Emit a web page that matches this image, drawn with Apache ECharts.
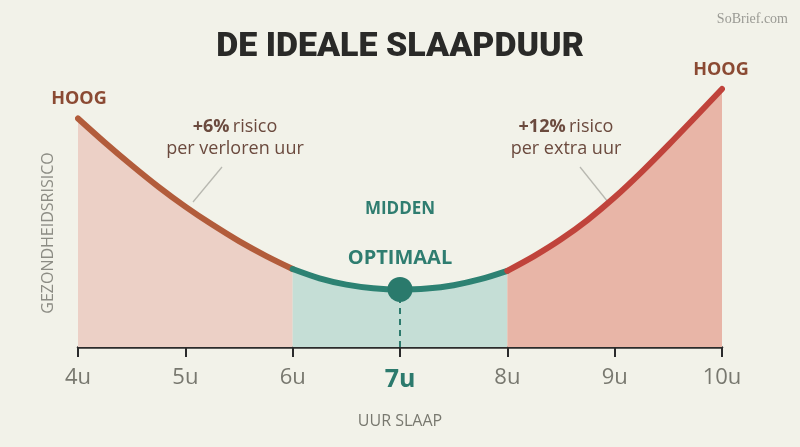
<!DOCTYPE html>
<html><head><meta charset="utf-8">
<script src="https://cdn.jsdelivr.net/npm/echarts@6/dist/echarts.min.js"></script>
<style>html,body{margin:0;padding:0;background:#f2f2e9}#c{width:800px;height:447px}</style>
</head><body><div id="c"></div>
<script>
// Hours of sleep (x) and health risk (relative units, 0 = axis)
const leftHours  = [4, 4.25, 4.5, 4.75, 5, 5.25, 5.5, 5.75, 6];
const leftRisk   = [76.2, 68.2, 60.6, 53.4, 46.8, 40.8, 35.3, 30.4, 26.0];
const midHours   = [6, 6.25, 6.5, 6.75, 7, 7.25, 7.5, 7.75, 8];
const midRisk    = [26.0, 22.9, 20.8, 19.6, 19.2, 19.5, 20.6, 22.6, 25.4];
const rightHours = [8, 8.25, 8.5, 8.75, 9, 9.25, 9.5, 9.75, 10];
const rightRisk  = [25.4, 30.3, 35.9, 42.4, 49.9, 58.3, 67.3, 76.6, 86.0];
const optimum    = [7, 19.2];
const tickValues = [4, 5, 6, 7, 8, 9, 10];

const pair = (xs, ys) => xs.map((x, i) => [x, ys[i]]);
const FONT = '"Open Sans", "Noto Sans", sans-serif';

const chart = echarts.init(document.getElementById('c'));
chart.setOption({
  backgroundColor: '#f2f2e9',
  animation: false,
  grid: { left: 78, right: 78, top: 47, bottom: 100 },
  xAxis: {
    type: 'value', min: tickValues[0], max: tickValues[tickValues.length - 1], interval: 1,
    axisLine: { lineStyle: { color: '#2b2b2b', width: 2.5 } },
    axisTick: { show: true, length: 10, lineStyle: { color: '#2b2b2b', width: 2 } },
    splitLine: { show: false },
    axisLabel: {
      margin: 20,
      formatter: v => v === 7 ? '{hi|7u}' : '{n|' + v + 'u}',
      rich: {
        n: { fontFamily: FONT, fontSize: 22, color: '#78786f' },
        hi: { fontFamily: FONT, fontSize: 25, fontWeight: 'bold', color: '#2c7a6d' }
      }
    },
    name: 'UUR SLAAP', nameLocation: 'middle', nameGap: 66,
    nameTextStyle: { fontFamily: FONT, fontSize: 16, color: '#78786f' }
  },
  yAxis: { type: 'value', min: 0, max: 100, show: false },
  series: [
    { type: 'line', data: pair(leftHours, leftRisk), smooth: 0.3, symbol: 'none',
      lineStyle: { color: '#b25c3b', width: 6, cap: 'round' },
      areaStyle: { color: '#ecd0c6', opacity: 1 }, z: 3 },
    { type: 'line', data: pair(midHours, midRisk), smooth: 0.3, symbol: 'none',
      lineStyle: { color: '#2d8273', width: 6, cap: 'round' },
      areaStyle: { color: '#c5ded6', opacity: 1 }, z: 3,
      markLine: { silent: true, symbol: 'none', label: { show: false },
        lineStyle: { color: '#2d7a6d', width: 2, type: [6, 5] },
        data: [[{ coord: [optimum[0], 0] }, { coord: [optimum[0], optimum[1]] }]] } },
    { type: 'line', data: pair(rightHours, rightRisk), smooth: 0.3, symbol: 'none',
      lineStyle: { color: '#c0433b', width: 6, cap: 'round' },
      areaStyle: { color: '#e8b5a7', opacity: 1 }, z: 3 },
    { type: 'scatter', data: [optimum], symbolSize: 25, itemStyle: { color: '#2a7a6c', opacity: 1 }, z: 5 }
  ],
  graphic: [
    { type: 'text', left: 'center', top: 30, style: { text: 'DE IDEALE SLAAPDUUR', fontFamily: 'Roboto, sans-serif', fontWeight: 900, fontSize: 34, fill: '#2a2a28' } },
    { type: 'text', right: 12, top: 12, style: { text: 'SoBrief.com', fontFamily: '"Liberation Serif", serif', fontSize: 14, fill: '#9a9a94' } },
    { type: 'text', x: 79, y: 99, style: { text: 'HOOG', align: 'center', verticalAlign: 'middle', fontFamily: FONT, fontWeight: 'bold', fontSize: 18, fill: '#8b4a33' } },
    { type: 'text', x: 721, y: 70, style: { text: 'HOOG', align: 'center', verticalAlign: 'middle', fontFamily: FONT, fontWeight: 'bold', fontSize: 18, fill: '#8b4a33' } },
    { type: 'text', x: 235, y: 138, style: { text: '{b|+6%} {r|risico}\n{r|per verloren uur}', align: 'center', verticalAlign: 'middle', lineHeight: 22,
      rich: { b: { fontFamily: FONT, fontWeight: 'bold', fontSize: 18, fill: '#6b4a3e', lineHeight: 22 }, r: { fontFamily: FONT, fontSize: 18, fill: '#6b4a3e', lineHeight: 22 } } } },
    { type: 'text', x: 566, y: 138, style: { text: '{b|+12%} {r|risico}\n{r|per extra uur}', align: 'center', verticalAlign: 'middle', lineHeight: 22,
      rich: { b: { fontFamily: FONT, fontWeight: 'bold', fontSize: 18, fill: '#6b4a3e', lineHeight: 22 }, r: { fontFamily: FONT, fontSize: 18, fill: '#6b4a3e', lineHeight: 22 } } } },
    { type: 'line', shape: { x1: 222, y1: 167, x2: 193, y2: 202 }, style: { stroke: '#b8b8b0', lineWidth: 1.3 } },
    { type: 'line', shape: { x1: 580, y1: 167, x2: 608, y2: 202 }, style: { stroke: '#b8b8b0', lineWidth: 1.3 } },
    { type: 'text', x: 97, y: 255, style: { text: 'LINKER', verticalAlign: 'middle', fontFamily: FONT, fontWeight: 'bold', fontSize: 17, fill: '#8b4a33' } },
    { type: 'text', x: 97, y: 277, style: { text: 'gevarenzone', verticalAlign: 'middle', fontFamily: FONT, fontSize: 17, fill: '#8b5442' } },
    { type: 'text', x: 97, y: 320, style: { text: 'Te weinig', verticalAlign: 'middle', fontFamily: FONT, fontSize: 16, fill: '#9d8d87' } },
    { type: 'text', x: 703, y: 254, style: { text: 'RECHTER', align: 'right', verticalAlign: 'middle', fontFamily: FONT, fontWeight: 'bold', fontSize: 17, fill: '#8b4a33' } },
    { type: 'text', x: 703, y: 277, style: { text: 'gevarenzone', align: 'right', verticalAlign: 'middle', fontFamily: FONT, fontSize: 17, fill: '#8b5442' } },
    { type: 'text', x: 703, y: 320, style: { text: 'Te veel', align: 'right', verticalAlign: 'middle', fontFamily: FONT, fontSize: 16, fill: '#9d8d87' } },
    { type: 'text', x: 400, y: 209, style: { text: 'MIDDEN', align: 'center', verticalAlign: 'middle', fontFamily: FONT, fontWeight: 'bold', fontSize: 17, fill: '#2f7d70' } },
    { type: 'text', x: 400, y: 258, style: { text: 'OPTIMAAL', align: 'center', verticalAlign: 'middle', fontFamily: FONT, fontWeight: 'bold', fontSize: 20, fill: '#2f7d70' } },
    { type: 'text', x: 48, y: 233, rotation: Math.PI / 2, style: { text: 'GEZONDHEIDSRISICO', align: 'center', verticalAlign: 'middle', fontFamily: FONT, fontSize: 16, fill: '#8c8c84' } }
  ]
});
</script></body></html>
